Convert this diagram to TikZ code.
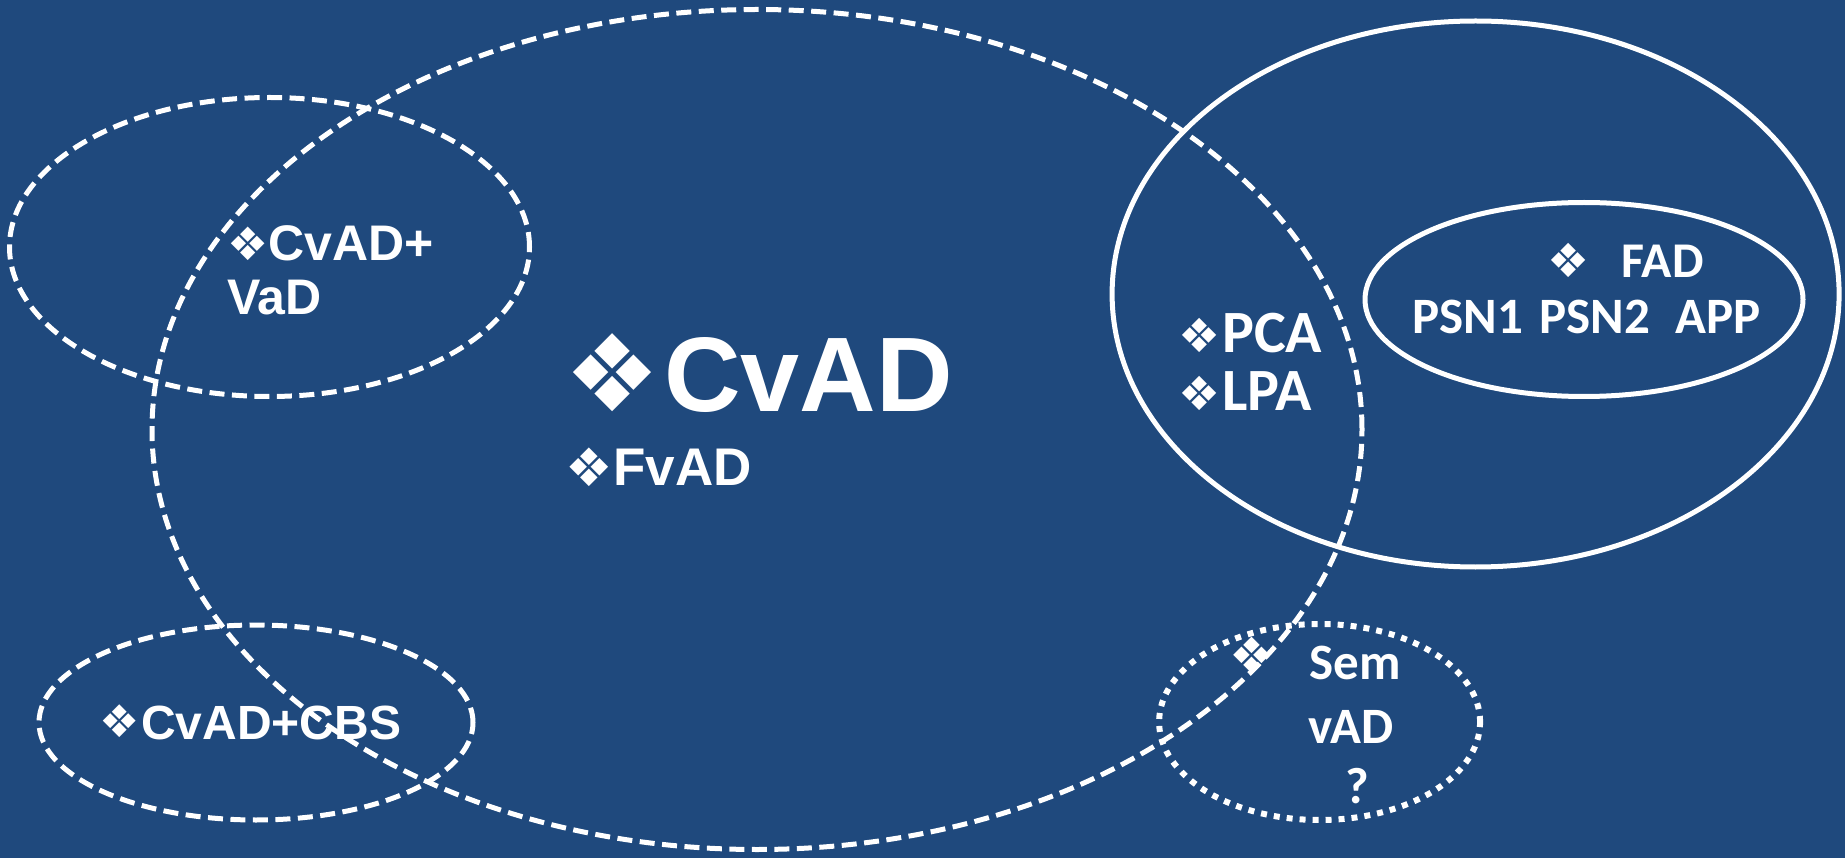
\documentclass[tikz,border=0pt]{standalone}
\usepackage{fontspec}
\setmainfont{Liberation Sans}
\newfontfamily\calb{Carlito}
\newfontfamily\symf{DejaVu Sans}
\usetikzlibrary{shapes.geometric}
\definecolor{bg}{RGB}{31,73,125}
\begin{document}
\begin{tikzpicture}[x=1pt,y=-1pt,
  ell/.style={ellipse, draw=white, line width=5pt, inner sep=0pt, outer sep=0pt},
  dsh/.style={dash pattern=on 15pt off 7.5pt},
  dtt/.style={line width=6pt, dash pattern=on 6pt off 7pt},
  ar/.style={text=white, inner sep=0pt, anchor=base west, font=\bfseries\fontsize{#1pt}{#1pt}\selectfont},
  cb/.style={text=white, inner sep=0pt, anchor=base west, font=\calb\bfseries\fontsize{#1pt}{#1pt}\selectfont},
  sym/.style={text=white, inner sep=0pt, anchor=center, font=\symf\fontsize{#1pt}{#1pt}\selectfont}]
\fill[bg] (0,0) rectangle (1845,858);
\useasboundingbox (0,0) rectangle (1845,858);
% ellipses
\node[ell, dsh, minimum width=1210pt, minimum height=840pt] (big) at (757,429.5) {};
\node[ell, dsh, minimum width=520pt, minimum height=299pt] (tl) at (269.5,247) {};
\node[ell, dsh, minimum width=434pt, minimum height=195pt] (bl) at (256,722.5) {};
\node[ell, dtt, minimum width=321pt, minimum height=196pt] (br) at (1319.6,722) {};
\node[ell, minimum width=727pt, minimum height=546pt] (right) at (1475.6,294) {};
\node[ell, minimum width=438pt, minimum height=194pt] (fad) at (1584,299.5) {};
% texts
\node[sym=46] (s1) at (248.5,243.5) {❖};
\node[ar=50] (t1) at (268,261) {CvAD+};
\node[ar=50] (t2) at (227,315) {VaD};
\node[sym=107] (s2) at (612.5,372.5) {❖};
\node[ar=106] (t3) at (664,412) {CvAD};
\node[sym=53] (s3) at (589,467.5) {❖};
\node[ar=53] (t4) at (613,485) {FvAD};
\node[sym=47] (s4) at (1200,335) {❖};
\node[cb=60] (t5) at (1222,353) {PCA};
\node[sym=47] (s5) at (1200,393) {❖};
\node[cb=60] (t6) at (1222,410.6) {LPA};
\node[sym=47] (s6) at (1569,260) {❖};
\node[cb=50] (t7) at (1621.5,277.7) {FAD};
\node[cb=51] (t8) at (1412,334) {PSN1};
\node[cb=51] (t9) at (1539,334) {PSN2};
\node[cb=51] (t10) at (1675.6,334) {APP};
\node[sym=50] (s7) at (1252,655) {❖};
\node[cb=51] (t11) at (1309.6,679) {Sem};
\node[cb=51] (t12) at (1308.5,743.7) {vAD};
\node[cb=51] (t13) at (1345,803.7) {?};
\node[sym=45] (s8) at (119.4,721) {❖};
\node[ar=48] (t14) at (141,739) {CvAD+CBS};
\end{tikzpicture}
\end{document}
